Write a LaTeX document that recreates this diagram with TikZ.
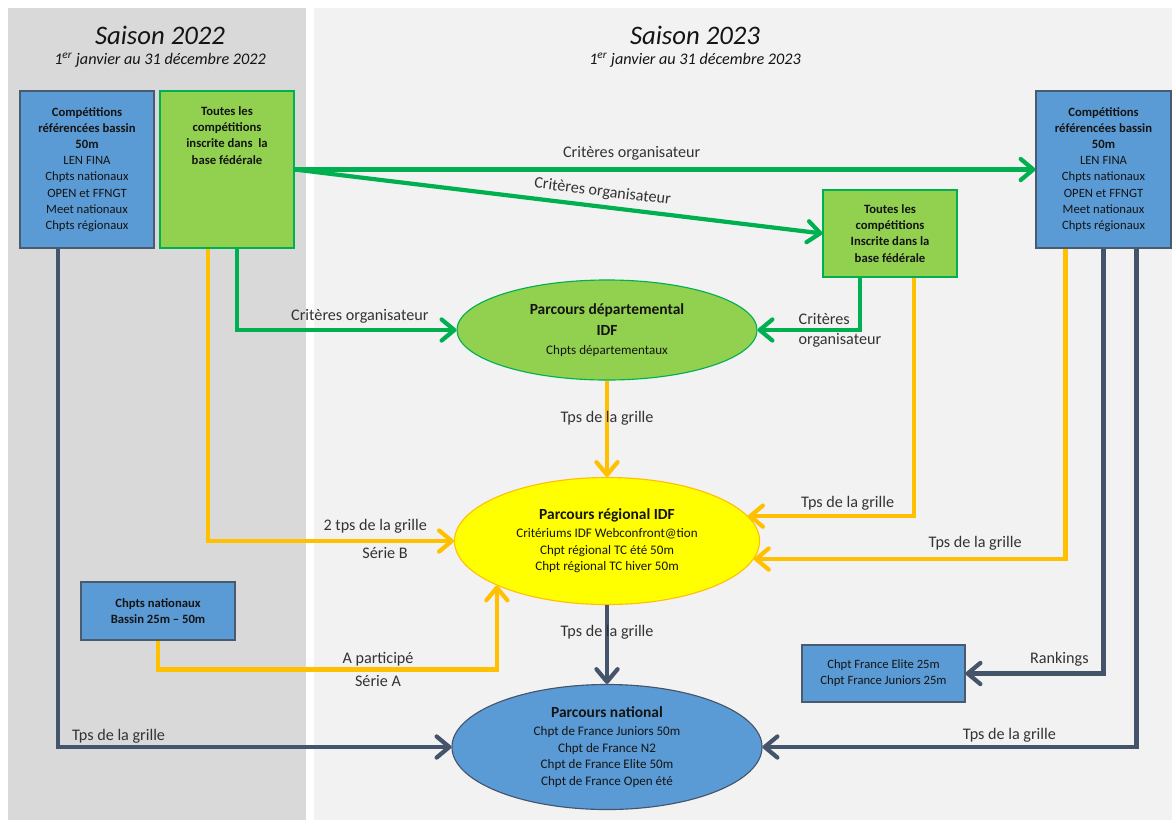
\documentclass[tikz,border=0pt]{standalone}
\usepackage{fontspec}
\setmainfont{Carlito}
\usetikzlibrary{arrows.meta,shapes.geometric,calc}
\definecolor{panelL}{HTML}{D9D9D9}
\definecolor{panelR}{HTML}{F2F2F2}
\definecolor{blueF}{HTML}{5B9BD5}
\definecolor{blueB}{HTML}{4A5B70}
\definecolor{greenF}{HTML}{92D050}
\definecolor{greenB}{HTML}{00B050}
\definecolor{yellowF}{HTML}{FFFF00}
\definecolor{yellowL}{HTML}{FFC000}
\definecolor{darkL}{HTML}{44546A}
\definecolor{txt}{HTML}{141414}
\definecolor{lblc}{HTML}{333333}
\newcommand\Tt[1]{{\fontsize{11}{13}\selectfont\bfseries #1}}
\begin{document}
\begin{tikzpicture}[x=0.025cm,y=-0.025cm,
  box/.style={line width=0.8pt, inner sep=0pt, align=center, text=txt, font=\fontsize{9}{11.5}\selectfont},
  bbox/.style={box, fill=blueF, draw=blueB},
  gbox/.style={box, fill=greenF, draw=greenB},
  ell/.style={ellipse, inner sep=0pt, align=center, line width=0.8pt, text=txt, font=\fontsize{9.3}{11.8}\selectfont},
  boxtext/.style={inner sep=0pt, align=center, text=txt, font=\fontsize{9}{11.5}\selectfont},
  title/.style={font=\fontsize{19}{22}\selectfont\itshape, text=txt},
  subt/.style={font=\fontsize{11.5}{13}\selectfont\itshape, text=txt},
  lbl/.style={font=\fontsize{11.5}{14}\selectfont, text=lblc, inner sep=1pt},
  con/.style={line width=3pt, -{Straight Barb[length=9pt,width=15pt,round]}},
  gcon/.style={con, draw=greenB},
  ycon/.style={con, draw=yellowL},
  dcon/.style={con, draw=darkL}]
\useasboundingbox (0,0) rectangle (1175,823);
\fill[white] (0,0) rectangle (1175,823);
\fill[panelL] (8,8) rectangle (306,820);
\fill[panelR] (314,8) rectangle (1172,820);

% titles
\node[title] (t22) at (160,35) {Saison 2022};
\node[subt] (s22) at (160,60) {1\textsuperscript{er} janvier au 31 décembre 2022};
\node[title] (t23) at (695,35) {Saison 2023};
\node[subt] (s23) at (695,60) {1\textsuperscript{er} janvier au 31 décembre 2023};

% boxes
\node[bbox, minimum width=3.35cm, minimum height=3.925cm] (A) at (87,169.5)
  {\textbf{Compétitions}\\\textbf{référencées bassin}\\\textbf{50m}\\LEN FINA\\Chpts nationaux\\OPEN et FFNGT\\Meet nationaux\\Chpts régionaux};
\node[gbox, minimum width=3.35cm, minimum height=3.925cm] (B) at (227,169.5) {};
\node[boxtext, font=\fontsize{9}{11.5}\selectfont\bfseries, anchor=north] (Bt) at ([yshift=-0.4cm]B.north)
  {Toutes les\\compétitions\\inscrite dans\ \ la\\base fédérale};
\node[bbox, minimum width=3.375cm, minimum height=3.925cm] (C) at (1103.5,169.5)
  {\textbf{Compétitions}\\\textbf{référencées bassin}\\\textbf{50m}\\LEN FINA\\Chpts nationaux\\OPEN et FFNGT\\Meet nationaux\\Chpts régionaux};
\node[gbox, minimum width=3.35cm, minimum height=2.175cm, font=\fontsize{9}{11.5}\selectfont\bfseries] (D) at (890,233.5)
  {Toutes les\\compétitions\\Inscrite dans la\\base fédérale};
\node[bbox, minimum width=3.85cm, minimum height=1.45cm, font=\fontsize{9}{11.5}\selectfont\bfseries] (H) at (158,611)
  {Chpts nationaux\\Bassin 25m -- 50m};
\node[bbox, minimum width=4.075cm, minimum height=1.425cm] (I) at (883.5,673.5)
  {Chpt France Elite 25m\\Chpt France Juniors 25m};

% ellipses
\node[ell, fill=greenF, draw=greenB, minimum width=7.5cm, minimum height=2.5cm] (E) at (607,330)
  {\Tt{Parcours départemental}\\[3pt]\Tt{IDF}\\[2pt]Chpts départementaux};
\node[ell, fill=yellowF, draw=yellowL, minimum width=7.625cm, minimum height=3.175cm] (F) at (607,541)
  {\Tt{Parcours régional IDF}\\[1pt]Critériums IDF Webconfront@tion\\Chpt régional TC été 50m\\Chpt régional TC hiver 50m};
\node[ell, fill=blueF, draw=darkL, minimum width=7.75cm, minimum height=3.125cm] (G) at (607,747)
  {\Tt{Parcours national}\\[1pt]Chpt de France Juniors 50m\\Chpt de France N2\\Chpt de France Elite 50m\\Chpt de France Open été};

% green connectors
\draw[gcon] (B.east) -- node[lbl,pos=0.455,above=4pt] (L1) {Critères organisateur} (C.west);
\draw[gcon] (B.east) -- node[lbl,pos=0.58,sloped,above=3pt] (L2) {Critères organisateur} (D.west);
\draw[gcon] ([xshift=0.25cm]B.south) |- node[lbl,pos=0.78,above=2pt] (L3) {Critères organisateur} (E.west);
\draw[gcon] ([xshift=-0.75cm]D.south) |- (E.east);
\node[lbl, align=left, anchor=west] (L4) at (797,330) {Critères\\organisateur};

% yellow connectors
\draw[ycon] (E.south) -- node[lbl,pos=0.39] (L5) {Tps de la grille} (F.north);
\draw[ycon] ([xshift=-0.475cm]B.south) |- node[lbl,pos=0.84,above=3pt] (L6a) {2 tps de la grille}
  node[lbl,pos=0.86,below=2pt] (L6b) {Série B} (F.west);
\draw[ycon] ([xshift=0.6cm]D.south) |- node[lbl,pos=0.7,above=2pt] (L7) {Tps de la grille} (F.10);
\draw[ycon] ([xshift=-0.95cm]C.south) |- node[lbl,pos=0.645,above=4pt] (L8) {Tps de la grille} (F.-7);
\draw[ycon] (H.south) -- ++(0,29) -| (F.202);
\node[lbl] (L9a) at (378,659) {A participé};
\node[lbl] (L9b) at (378,681) {Série A};

% dark connectors
\draw[dcon] (F.south) -- node[lbl,pos=0.34] (L10) {Tps de la grille} (G.north);
\draw[dcon] ([xshift=-0.725cm]A.south) |- node[lbl,pos=0.577,above=0pt] (L11) {Tps de la grille} (G.west);
\draw[dcon] (C.south) |- node[lbl,pos=0.66,above=3pt] (L12) {Rankings} (I.east);
\draw[dcon] ([xshift=0.825cm]C.south) |- node[lbl,pos=0.67,above=1pt] (L13) {Tps de la grille} (G.east);
\end{tikzpicture}
\end{document}
